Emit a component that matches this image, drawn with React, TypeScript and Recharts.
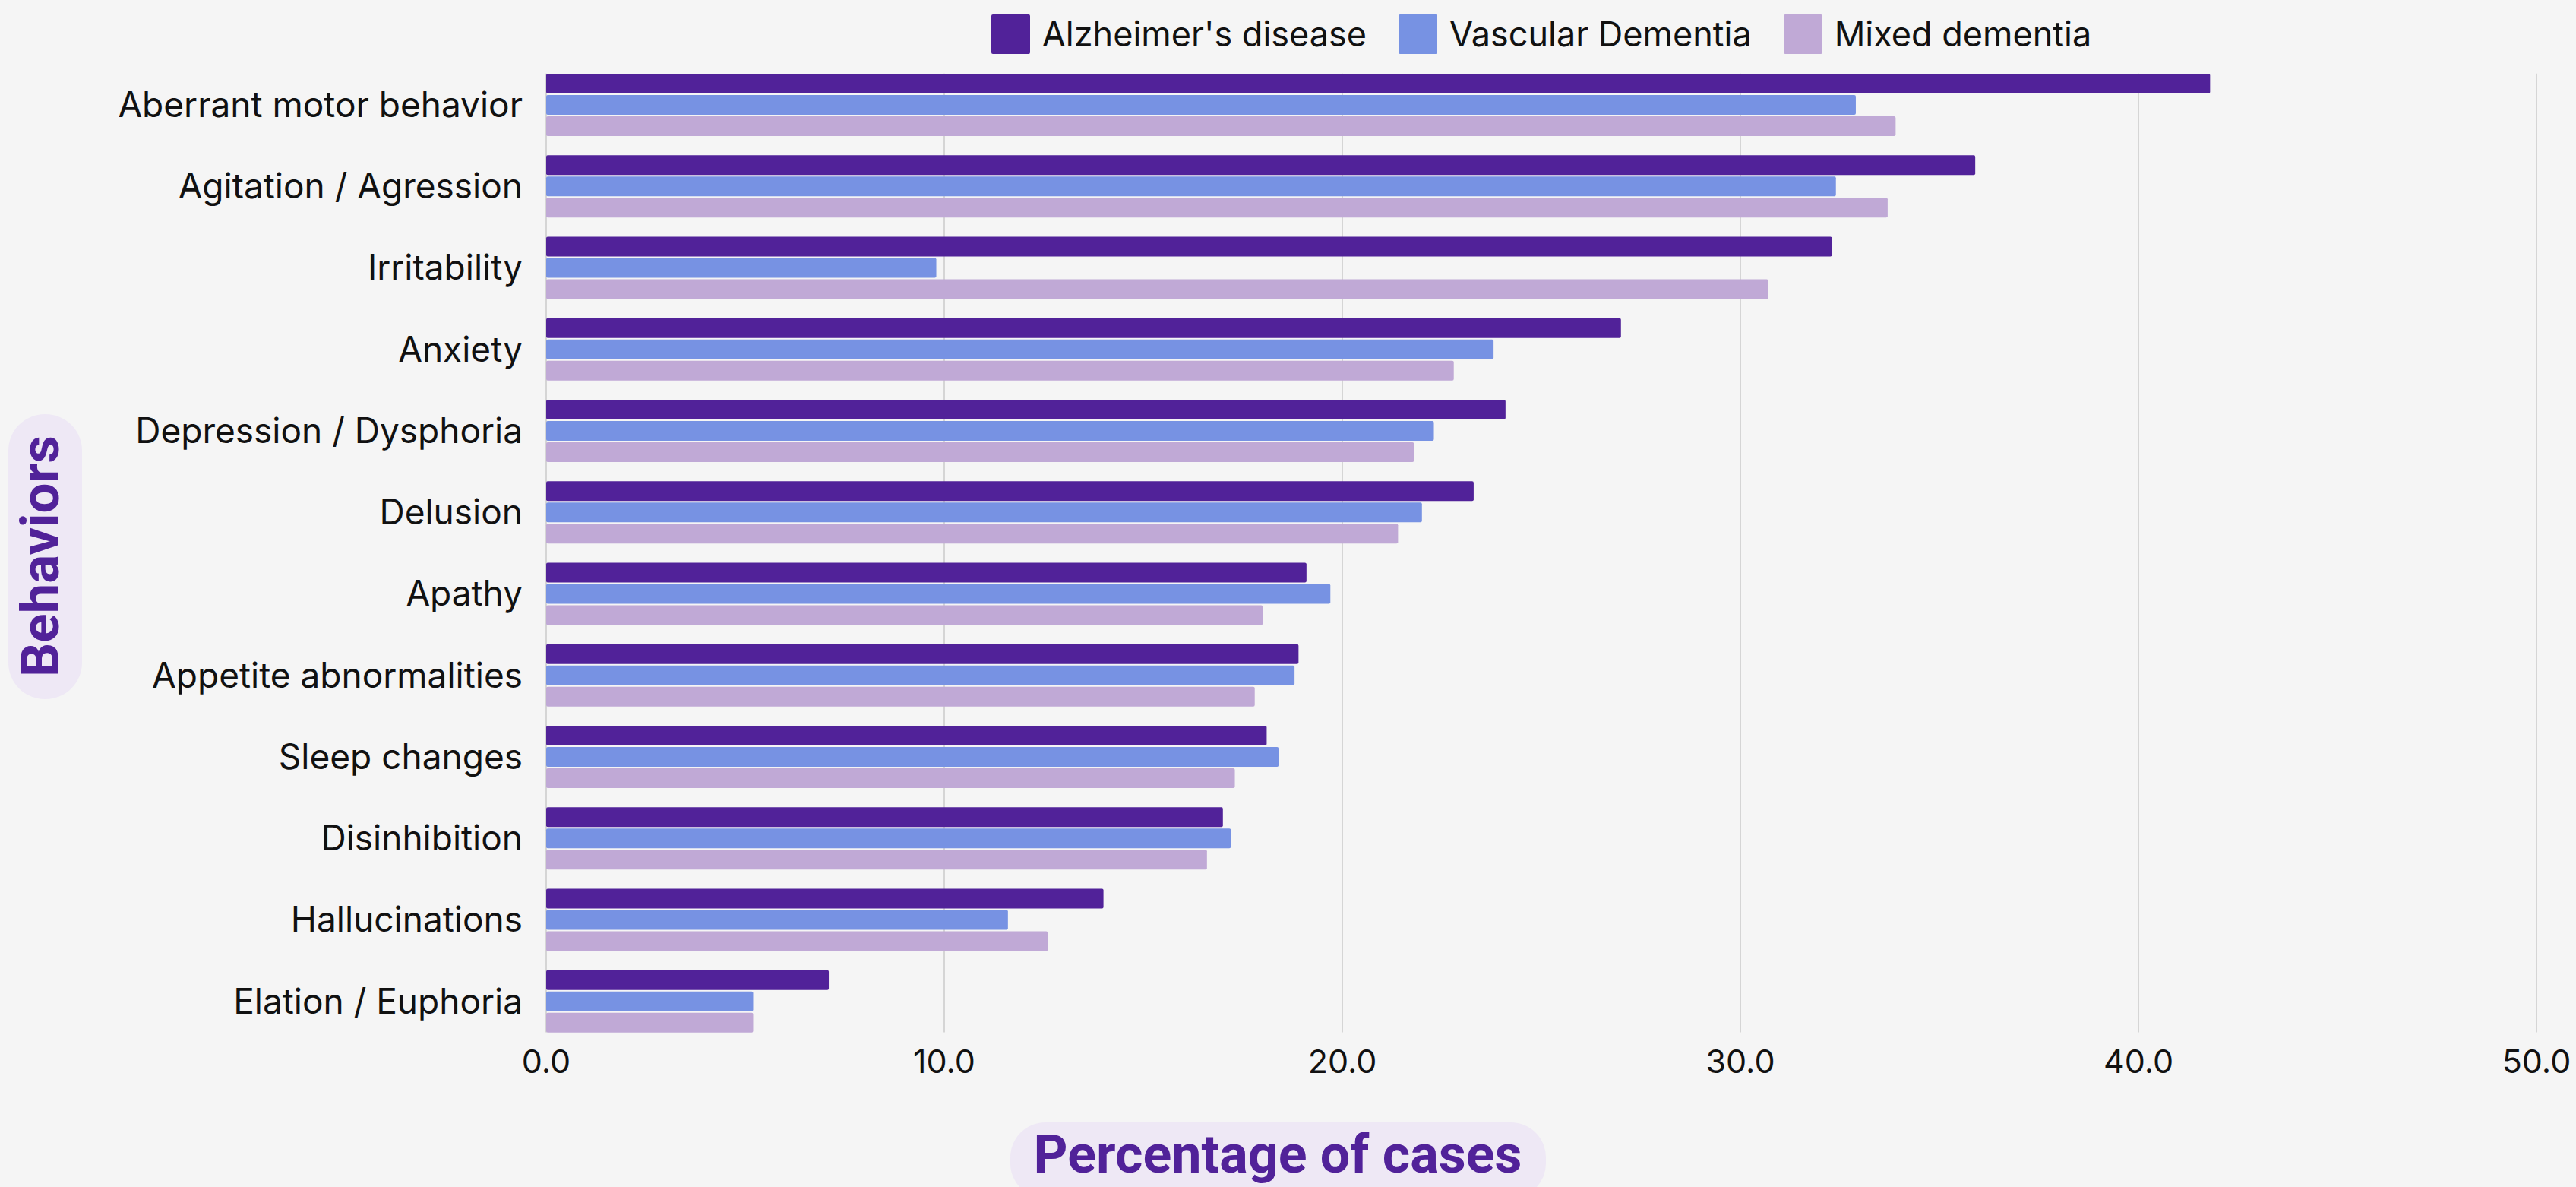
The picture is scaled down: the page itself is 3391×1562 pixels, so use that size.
import { Bar, BarChart, CartesianGrid, Legend, XAxis, YAxis } from "recharts";

const behaviors = [
  "Aberrant motor behavior",
  "Agitation / Agression",
  "Irritability",
  "Anxiety",
  "Depression / Dysphoria",
  "Delusion",
  "Apathy",
  "Appetite abnormalities",
  "Sleep changes",
  "Disinhibition",
  "Hallucinations",
  "Elation / Euphoria",
];
const alzheimers = [41.8, 35.9, 32.3, 27.0, 24.1, 23.3, 19.1, 18.9, 18.1, 17.0, 14.0, 7.1];
const vascular = [32.9, 32.4, 9.8, 23.8, 22.3, 22.0, 19.7, 18.8, 18.4, 17.2, 11.6, 5.2];
const mixed = [33.9, 33.7, 30.7, 22.8, 21.8, 21.4, 18.0, 17.8, 17.3, 16.6, 12.6, 5.2];
const xTicks = [0, 10, 20, 30, 40, 50];

const series = [
  { dataKey: "alzheimers", name: "Alzheimer's disease", color: "#512299" },
  { dataKey: "vascular", name: "Vascular Dementia", color: "#7792E3" },
  { dataKey: "mixed", name: "Mixed dementia", color: "#C0A9D6" },
];

const data = behaviors.map((name, i) => ({
  name,
  alzheimers: alzheimers[i],
  vascular: vascular[i],
  mixed: mixed[i],
}));

const WIDTH = 3391;
const HEIGHT = 1562;
const BAR_SIZE = 26;
const BAR_GAP = 2;
const GROUP = series.length * BAR_SIZE + (series.length - 1) * BAR_GAP;

const LABEL_FONT = "Inter, 'Noto Sans', sans-serif";
const TITLE_FONT = "Roboto, 'Noto Sans', sans-serif";
const PURPLE = "#512299";
const PILL = "#EEE8F5";

// grid lines stop at the first and last bar groups instead of the band edges
function GridLine(props: any) {
  const band = (props.y2 - props.y1) / behaviors.length;
  const inset = (band - GROUP) / 2;
  return (
    <line
      key={`grid-${props.index}`}
      x1={props.x1}
      x2={props.x2}
      y1={props.y1 + inset}
      y2={props.y2 - inset}
      stroke="#CACACA"
      strokeWidth={1.5}
    />
  );
}

function LegendContent() {
  return (
    <div style={{ display: "flex", justifyContent: "center", gap: 42, height: 65 }}>
      {series.map((s) => (
        <div key={s.dataKey} style={{ display: "flex", alignItems: "center", height: 52 }}>
          <span
            style={{
              display: "inline-block",
              width: 51,
              height: 52,
              background: s.color,
              borderRadius: 2,
              marginRight: 16,
            }}
          />
          <span style={{ fontFamily: LABEL_FONT, fontSize: 45, color: "#111", lineHeight: "52px" }}>
            {s.name}
          </span>
        </div>
      ))}
    </div>
  );
}

function XTitle() {
  return (
    <g>
      <rect x={1330} y={1477} width={705} height={100} rx={46} fill={PILL} />
      <text
        x={1682}
        y={1543}
        textAnchor="middle"
        fontFamily={TITLE_FONT}
        fontSize={70}
        fontWeight={700}
        fill={PURPLE}
      >
        Percentage of cases
      </text>
    </g>
  );
}

function YTitle() {
  return (
    <g>
      <rect x={11} y={545} width={97} height={375} rx={48} fill={PILL} />
      <text
        x={77}
        y={732}
        transform="rotate(-90, 77, 732)"
        textAnchor="middle"
        fontFamily={TITLE_FONT}
        fontSize={71}
        fontWeight={700}
        fill={PURPLE}
      >
        Behaviors
      </text>
    </g>
  );
}

export default function App() {
  return (
    <div
      style={{
        position: "absolute",
        left: 0,
        top: 0,
        width: WIDTH,
        height: HEIGHT,
        background: "#F5F5F5",
      }}
    >
      <BarChart
        width={WIDTH}
        height={HEIGHT}
        data={data}
        layout="vertical"
        margin={{ top: 19, right: 52, bottom: 111, left: 0 }}
        barSize={BAR_SIZE}
        barGap={BAR_GAP}
      >
        <CartesianGrid horizontal={false} vertical={GridLine} />
        <XAxis
          type="number"
          domain={[0, 50]}
          ticks={xTicks}
          tickFormatter={(v: number) => v.toFixed(1)}
          axisLine={false}
          tickLine={false}
          tickSize={0}
          tickMargin={10}
          height={80}
          tick={{ fontFamily: LABEL_FONT, fontSize: 43, fill: "#111" }}
          label={{ content: XTitle }}
        />
        <YAxis
          type="category"
          dataKey="name"
          width={719}
          axisLine={false}
          tickLine={false}
          tickSize={0}
          tickMargin={31}
          interval={0}
          tick={{ fontFamily: LABEL_FONT, fontSize: 46, fill: "#111" }}
          label={{ content: YTitle }}
        />
        <Legend
          verticalAlign="top"
          align="center"
          content={LegendContent}
          wrapperStyle={{ top: 19, left: 719, width: 2620 }}
        />
        {series.map((s) => (
          <Bar
            key={s.dataKey}
            dataKey={s.dataKey}
            name={s.name}
            fill={s.color}
            radius={2}
            isAnimationActive={false}
          />
        ))}
      </BarChart>
    </div>
  );
}
